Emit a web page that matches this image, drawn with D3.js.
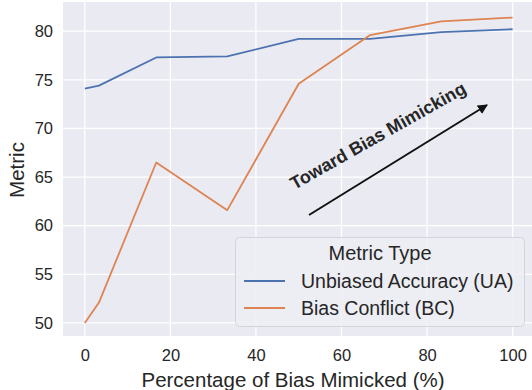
<!DOCTYPE html>
<head>
	<script src="https://d3js.org/d3.v7.min.js"></script>
	<style>
		body { margin: 0; background: #fff; }
		text { font-family: "Liberation Sans", Arial, sans-serif; fill: #262626; }
	</style>
</head>
<body>
	<script type="text/javascript">
		// Set up size
		var width = 532;
		var height = 390;

		// percentage of bias mimicked
		var pct = [0, 3.3, 16.7, 33.3, 50, 66.7, 83.3, 100];
		// Unbiased Accuracy (UA)
		var uaValues = [74.1, 74.4, 77.3, 77.4, 79.2, 79.2, 79.9, 80.2];
		// Bias Conflict (BC)
		var bcValues = [50.0, 52.1, 66.5, 61.6, 74.6, 79.6, 81.0, 81.4];
		var xTicks = [0, 20, 40, 60, 80, 100];
		var yTicks = [50, 55, 60, 65, 70, 75, 80];
		var seriesNames = ["Unbiased Accuracy (UA)", "Bias Conflict (BC)"];
		var colors = ["#4C72B0", "#DD8452"];

		var x = d3.scaleLinear().domain([-5.1, 105]).range([63, 534]);
		var y = d3.scaleLinear().domain([48.66, 83.0]).range([336, 2]);

		var svg = d3.select('body').append('svg')
		  .attr('width', width)
		  .attr('height', height);

		// plot background
		svg.append('rect')
		  .attr('x', x.range()[0]).attr('y', y.range()[1])
		  .attr('width', x.range()[1] - x.range()[0])
		  .attr('height', y.range()[0] - y.range()[1])
		  .attr('fill', '#EAEAF2');

		// grid
		svg.selectAll('.vgrid').data(xTicks).enter().append('line')
		  .attr('x1', d => x(d)).attr('x2', d => x(d))
		  .attr('y1', y.range()[1]).attr('y2', y.range()[0])
		  .attr('stroke', '#fff').attr('stroke-width', 1.3);
		svg.selectAll('.hgrid').data(yTicks).enter().append('line')
		  .attr('y1', d => y(d)).attr('y2', d => y(d))
		  .attr('x1', x.range()[0]).attr('x2', x.range()[1])
		  .attr('stroke', '#fff').attr('stroke-width', 1.3);

		// axes, no lines, just labels
		var xAxis = svg.append('g')
		  .attr('transform', 'translate(0,336)')
		  .call(d3.axisBottom(x).tickValues(xTicks).tickSize(0).tickPadding(13));
		var yAxis = svg.append('g')
		  .attr('transform', 'translate(63,0)')
		  .call(d3.axisLeft(y).tickValues(yTicks).tickSize(0).tickPadding(10));
		[xAxis, yAxis].forEach(function(a){
			a.select('.domain').remove();
			a.selectAll('text')
			  .style('font-family', '"Liberation Sans", Arial, sans-serif')
			  .style('font-size', '16.5px')
			  .attr('fill', '#262626');
		});

		// axis titles
		svg.append('text')
		  .attr('x', 293).attr('y', 387)
		  .attr('text-anchor', 'middle')
		  .style('font-size', '20.5px')
		  .text('Percentage of Bias Mimicked (%)');
		svg.append('text')
		  .attr('transform', 'translate(24,170) rotate(-90)')
		  .attr('text-anchor', 'middle')
		  .style('font-size', '20.5px')
		  .text('Metric');

		// lines
		var line = d3.line()
		  .x((d, i) => x(pct[i]))
		  .y(d => y(d));
		[uaValues, bcValues].forEach(function(vals, i){
			svg.append('path')
			  .datum(vals)
			  .attr('d', line)
			  .attr('fill', 'none')
			  .attr('stroke', colors[i])
			  .attr('stroke-width', 1.8)
			  .attr('stroke-linejoin', 'round');
		});

		// arrow annotation
		svg.append('defs').append('marker')
		  .attr('id', 'head')
		  .attr('viewBox', '0 0 10 10')
		  .attr('refX', 9).attr('refY', 5)
		  .attr('markerWidth', 5).attr('markerHeight', 5)
		  .attr('orient', 'auto')
		  .append('path')
		  .attr('d', 'M0,0 L10,5 L0,10 z')
		  .attr('fill', '#111');
		svg.append('line')
		  .attr('x1', 309).attr('y1', 215)
		  .attr('x2', 487).attr('y2', 105)
		  .attr('stroke', '#111')
		  .attr('stroke-width', 2)
		  .attr('marker-end', 'url(#head)');
		svg.append('text')
		  .attr('transform', 'translate(381,141) rotate(-29.5)')
		  .attr('text-anchor', 'middle')
		  .style('font-size', '18px')
		  .style('font-weight', 'bold')
		  .attr('fill', '#111')
		  .text('Toward Bias Mimicking');

		// legend
		var lg = svg.append('g');
		lg.append('rect')
		  .attr('x', 235.5).attr('y', 237.5)
		  .attr('width', 289).attr('height', 89)
		  .attr('rx', 4)
		  .attr('fill', '#EDEDF4')
		  .attr('fill-opacity', 0.9)
		  .attr('stroke', '#d4d4de')
		  .attr('stroke-width', 1);
		lg.append('text')
		  .attr('x', 380).attr('y', 260)
		  .attr('text-anchor', 'middle')
		  .style('font-size', '20px')
		  .text('Metric Type');
		seriesNames.forEach(function(name, i){
			var ly = 281 + i * 27;
			lg.append('line')
			  .attr('x1', 244).attr('x2', 285)
			  .attr('y1', ly).attr('y2', ly)
			  .attr('stroke', colors[i])
			  .attr('stroke-width', 1.8);
			lg.append('text')
			  .attr('x', 301).attr('y', ly + 7)
			  .style('font-size', '19.5px')
			  .text(name);
		});
	</script>
</body>
